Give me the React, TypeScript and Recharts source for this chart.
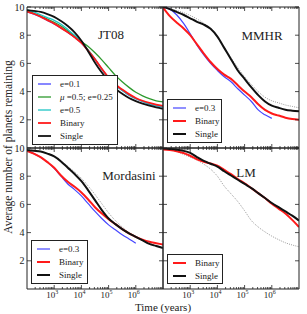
import { LineChart, Line, XAxis, YAxis, Legend } from 'recharts'

// time grid (years), quarter-decade steps from 1e2 to 1e7
const TIMES = [
  100, 178, 316, 562, 1000, 1778, 3162, 5623, 10000, 17783, 31623, 56234,
  100000, 177828, 316228, 562341, 1000000, 1778279, 3162278, 5623413, 10000000,
]

// JT08
const jtE01 = [9.65, 9.5, 9.3, 9.05, 8.8, 8.5, 8.2, 7.85, 7.45, 6.9, 6.3, 5.6, 4.95, 4.45, 4.1, 3.75, 3.5, 3.3, 3.12, 3.0, 2.9]
const jtMu = [9.72, 9.55, 9.35, 9.15, 8.92, 8.65, 8.3, 7.95, 7.55, 7.2, 6.75, 6.25, 5.7, 5.15, 4.7, 4.3, 3.95, 3.7, 3.5, 3.35, 3.27]
const jtE05 = [9.8, 9.65, 9.45, 9.25, 9.05, 8.78, 8.4, 8.0, 7.55, 6.95, 6.3, 5.6, 4.95, 4.45, 4.08, 3.75, 3.5, 3.3, 3.12, 3.0, 2.9]
const jtBinary = [9.68, 9.52, 9.32, 9.07, 8.82, 8.52, 8.2, 7.85, 7.45, 6.9, 6.3, 5.62, 5.0, 4.5, 4.15, 3.82, 3.55, 3.35, 3.2, 3.08, 2.98]
const jtSingle = [9.78, 9.72, 9.65, 9.5, 9.3, 9.0, 8.65, 8.2, 7.6, 6.85, 6.05, 5.35, 4.75, 4.2, 3.85, 3.55, 3.33, 3.15, 3.0, 2.88, 2.78]

// MMHR
const mmE03 = [10, 9.85, 9.45, 8.85, 8.1, 7.3, 6.6, 6.0, 5.5, 5.05, 4.7, 4.2, 3.75, 3.3, 2.7, 2.35, 2.1, null, null, null, null]
const mmBinary = [9.95, 9.35, 8.9, 8.5, 8.0, 7.35, 6.7, 6.1, 5.6, 5.2, 4.9, 4.45, 4.0, 3.6, 3.1, 2.7, 2.45, 2.3, 2.15, 2.05, 2.0]
const mmSingle = [10, 9.85, 9.65, 9.45, 9.2, 8.95, 8.75, 8.45, 7.9, 7.1, 6.3, 5.5, 4.9, 4.3, 3.75, 3.3, 3.0, 2.85, 2.72, 2.65, 2.6]
const mmRef = [10, 9.9, 9.75, 9.6, 9.4, 9.15, 8.85, 8.45, 7.85, 7.15, 6.4, 5.7, 5.05, 4.5, 4.0, 3.6, 3.35, 3.2, 3.05, 2.95, 2.85]

// Mordasini
const moE03 = [9.8, 9.6, 9.35, 9.0, 8.55, 8.0, 7.45, 7.05, 6.6, 6.05, 5.5, 5.0, 4.55, 4.2, 3.85, 3.55, 3.25, null, null, null, null]
const moBinary = [9.8, 9.6, 9.35, 9.0, 8.6, 8.05, 7.6, 7.25, 6.85, 6.35, 5.8, 5.35, 4.95, 4.6, 4.25, 3.95, 3.7, 3.5, 3.35, 3.25, 3.15]
const moSingle = [9.85, 9.8, 9.75, 9.6, 9.4, 9.05, 8.6, 8.15, 7.65, 7.0, 6.3, 5.6, 5.0, 4.6, 4.25, 3.95, 3.7, 3.45, 3.2, 3.05, 2.9]
const moRef = [9.9, 9.85, 9.75, 9.6, 9.4, 9.1, 8.7, 8.3, 7.85, 7.3, 6.7, 6.05, 5.4, 4.85, 4.4, 4.0, 3.7, 3.45, 3.25, 3.1, 2.95]

// LM
const lmBinary = [9.9, 9.85, 9.77, 9.65, 9.45, 9.2, 9.02, 8.9, 8.75, 8.45, 8.15, 7.8, 7.5, 7.15, 6.8, 6.45, 6.05, 5.7, 5.35, 4.9, 4.4]
const lmSingle = [9.97, 9.93, 9.88, 9.8, 9.65, 9.35, 9.08, 8.88, 8.68, 8.35, 8.05, 7.75, 7.45, 7.15, 6.8, 6.45, 6.1, 5.8, 5.5, 5.2, 4.85]
const lmRef = [9.92, 9.85, 9.76, 9.55, 9.35, 9.15, 8.85, 8.5, 8.0, 7.3, 6.75, 6.2, 5.55, 4.85, 4.4, 4.05, 3.75, 3.5, 3.28, 3.12, 3.0]

const X_MAJOR = [1e3, 1e4, 1e5, 1e6]
const X_MINOR = [1e2, 1e3, 1e4, 1e5, 1e6].flatMap((d) => [2, 3, 4, 5, 6, 7, 8, 9].map((k) => k * d))
const X_TICKS = [...X_MAJOR, ...X_MINOR]
const Y_TICKS = [2, 4, 6, 8, 10]

const FONT = '"Liberation Serif", "DejaVu Serif", serif'
const FRAME = '#222'

type Series = { key: string; name: string; data: (number | null)[]; color: string; width: number; dotted?: boolean }

function buildRows(series: Series[]) {
  return TIMES.map((t, i) => {
    const row: Record<string, number | null> = { t }
    series.forEach((s) => { row[s.key] = s.data[i] })
    return row
  })
}

function XTick({ x, y, payload, dir, labels }: any) {
  const v = payload.value
  const e = Math.round(Math.log10(v))
  const major = Math.abs(Math.log10(v) - e) < 1e-6
  const len = major ? 4 : 2
  return (
    <g>
      <line x1={x} x2={x} y1={y} y2={y + dir * len} stroke={FRAME} strokeWidth={0.8} />
      {major && labels && (
        <text x={x - 2} y={y + 9} textAnchor="middle" fontSize={9} fontFamily={FONT} fill="#222">
          10<tspan dy={-4} fontSize={6}>{e}</tspan>
        </text>
      )}
    </g>
  )
}

function YTick({ x, y, payload, dir, labels }: any) {
  return (
    <g>
      <line x1={x} x2={x + dir * 4} y1={y} y2={y} stroke={FRAME} strokeWidth={0.8} />
      {labels && (
        <text x={x - 2.5} y={y + 3.5} textAnchor="end" fontSize={10} fontFamily={FONT} fill="#222">
          {payload.value}
        </text>
      )}
    </g>
  )
}

function LegendBox({ series, width }: { series: Series[]; width: number }) {
  return (
    <div
      style={{
        width,
        boxSizing: 'border-box',
        border: `1.3px solid ${FRAME}`,
        background: '#fff',
        padding: '1px 0',
        fontFamily: FONT,
        fontSize: 9,
        color: '#222',
      }}
    >
      {series.filter((s) => !s.dotted).map((s) => (
        <div key={s.key} style={{ display: 'flex', alignItems: 'center', height: 13.2 }}>
          <svg width={18} height={6} style={{ marginLeft: 4, display: 'block' }}>
            <line x1={1} x2={14} y1={3} y2={3} stroke={s.color} strokeWidth={s.width} />
          </svg>
          <span style={{ marginLeft: 5, whiteSpace: 'nowrap' }}>
            {s.name.startsWith('μ') ? (<><i>μ</i>{s.name.slice(1)}</>) : s.name}
          </span>
        </div>
      ))}
    </div>
  )
}

type PanelProps = {
  series: Series[]
  left: number
  top: number
  xLabels: boolean
  yLabels: boolean
  legend: { x: number; y: number; w: number }
}

const W = 307
const H = 314
const PW = 136
const PH = 141

function Panel({ series, left, top, xLabels, yLabels, legend }: PanelProps) {
  const rows = buildRows(series)
  const axisLine = { stroke: FRAME, strokeWidth: 1 }
  return (
    <div style={{ position: 'absolute', left: 0, top: 0 }}>
      <LineChart
        width={W}
        height={H}
        data={rows}
        margin={{ left: left - 1, top: top - 1, right: W - left - PW - 1, bottom: H - top - PH - 1 }}
      >
        <XAxis
          xAxisId="b"
          dataKey="t"
          type="number"
          scale="log"
          domain={[100, 1e7]}
          allowDataOverflow
          ticks={X_TICKS}
          interval={0}
          height={1}
          tickSize={0}
          tickMargin={0}
          tickLine={false}
          axisLine={axisLine}
          tick={(p: any) => <XTick {...p} dir={-1} labels={xLabels} />}
        />
        <XAxis
          xAxisId="t"
          orientation="top"
          dataKey="t"
          type="number"
          scale="log"
          domain={[100, 1e7]}
          allowDataOverflow
          ticks={X_TICKS}
          interval={0}
          height={1}
          tickSize={0}
          tickMargin={0}
          tickLine={false}
          axisLine={axisLine}
          tick={(p: any) => <XTick {...p} dir={1} labels={false} />}
        />
        <YAxis
          yAxisId="l"
          type="number"
          domain={[0, 10]}
          allowDataOverflow
          ticks={Y_TICKS}
          interval={0}
          width={1}
          tickSize={0}
          tickMargin={0}
          tickLine={false}
          axisLine={axisLine}
          tick={(p: any) => <YTick {...p} dir={1} labels={yLabels} />}
        />
        <YAxis
          yAxisId="r"
          orientation="right"
          type="number"
          domain={[0, 10]}
          allowDataOverflow
          ticks={Y_TICKS}
          interval={0}
          width={1}
          tickSize={0}
          tickMargin={0}
          tickLine={false}
          axisLine={axisLine}
          tick={(p: any) => <YTick {...p} dir={-1} labels={false} />}
        />
        {series.map((s) => (
          <Line
            key={s.key}
            xAxisId="b"
            yAxisId="l"
            dataKey={s.key}
            name={s.name}
            type="monotone"
            stroke={s.color}
            strokeWidth={s.width}
            strokeDasharray={s.dotted ? '1 1.2' : undefined}
            dot={false}
            activeDot={false}
            legendType={s.dotted ? 'none' : 'line'}
            isAnimationActive={false}
          />
        ))}
        <Legend
          layout="vertical"
          align="center"
          verticalAlign="middle"
          wrapperStyle={{ left: legend.x, top: legend.y, width: legend.w, height: 'auto' }}
          content={() => <LegendBox series={series} width={legend.w} />}
        />
      </LineChart>
    </div>
  )
}

const BLUE = '#4646ff'
const GREEN = '#2e9a2e'
const CYAN = '#1cc4c4'
const RED = '#ff1a1a'
const BLACK = '#111'
const GRAY = '#808080'

const jtSeries: Series[] = [
  { key: 'e01', name: 'e=0.1', data: jtE01, color: BLUE, width: 1.3 },
  { key: 'mu', name: 'μ =0.5; e=0.25', data: jtMu, color: GREEN, width: 1.3 },
  { key: 'e05', name: 'e=0.5', data: jtE05, color: CYAN, width: 1.3 },
  { key: 'bin', name: 'Binary', data: jtBinary, color: RED, width: 1.8 },
  { key: 'sgl', name: 'Single', data: jtSingle, color: BLACK, width: 1.8 },
]
const mmSeries: Series[] = [
  { key: 'ref', name: 'ref', data: mmRef, color: GRAY, width: 0.8, dotted: true },
  { key: 'e03', name: 'e=0.3', data: mmE03, color: BLUE, width: 1.2 },
  { key: 'bin', name: 'Binary', data: mmBinary, color: RED, width: 2 },
  { key: 'sgl', name: 'Single', data: mmSingle, color: BLACK, width: 2 },
]
const moSeries: Series[] = [
  { key: 'ref', name: 'ref', data: moRef, color: GRAY, width: 0.8, dotted: true },
  { key: 'e03', name: 'e=0.3', data: moE03, color: BLUE, width: 1.2 },
  { key: 'bin', name: 'Binary', data: moBinary, color: RED, width: 2 },
  { key: 'sgl', name: 'Single', data: moSingle, color: BLACK, width: 2 },
]
const lmSeries: Series[] = [
  { key: 'ref', name: 'ref', data: lmRef, color: GRAY, width: 0.8, dotted: true },
  { key: 'bin', name: 'Binary', data: lmBinary, color: RED, width: 2 },
  { key: 'sgl', name: 'Single', data: lmSingle, color: BLACK, width: 2 },
]

const titleStyle = (x: number, y: number): React.CSSProperties => ({
  position: 'absolute',
  left: x,
  top: y,
  transform: 'translate(-50%, -50%)',
  fontFamily: FONT,
  fontSize: 13,
  lineHeight: '13px',
  color: '#222',
  whiteSpace: 'nowrap',
})

export default function App() {
  return (
    <div style={{ position: 'absolute', left: 0, top: 0, width: W, height: H, background: '#fff', overflow: 'hidden' }}>
      <Panel series={jtSeries} left={27} top={7} xLabels={false} yLabels legend={{ x: 32, y: 75, w: 86 }} />
      <Panel series={mmSeries} left={163} top={7} xLabels={false} yLabels={false} legend={{ x: 167, y: 99, w: 55 }} />
      <Panel series={moSeries} left={27} top={148} xLabels yLabels legend={{ x: 31, y: 240, w: 57 }} />
      <Panel series={lmSeries} left={163} top={148} xLabels yLabels={false} legend={{ x: 167, y: 254, w: 56 }} />
      <div style={titleStyle(111, 34)}>JT08</div>
      <div style={titleStyle(262, 35)}>MMHR</div>
      <div style={titleStyle(129, 175)}>Mordasini</div>
      <div style={titleStyle(246, 172)}>LM</div>
      <div
        style={{
          position: 'absolute',
          left: 7.5,
          top: 147,
          transform: 'translate(-50%, -50%) rotate(-90deg)',
          fontFamily: FONT,
          fontSize: 11.5,
          lineHeight: '12px',
          color: '#222',
          whiteSpace: 'nowrap',
        }}
      >
        Average number of planets remaining
      </div>
      <div
        style={{
          position: 'absolute',
          left: 163,
          top: 306.5,
          transform: 'translate(-50%, -50%)',
          fontFamily: FONT,
          fontSize: 11,
          lineHeight: '11px',
          color: '#222',
          whiteSpace: 'nowrap',
        }}
      >
        Time (years)
      </div>
    </div>
  )
}
